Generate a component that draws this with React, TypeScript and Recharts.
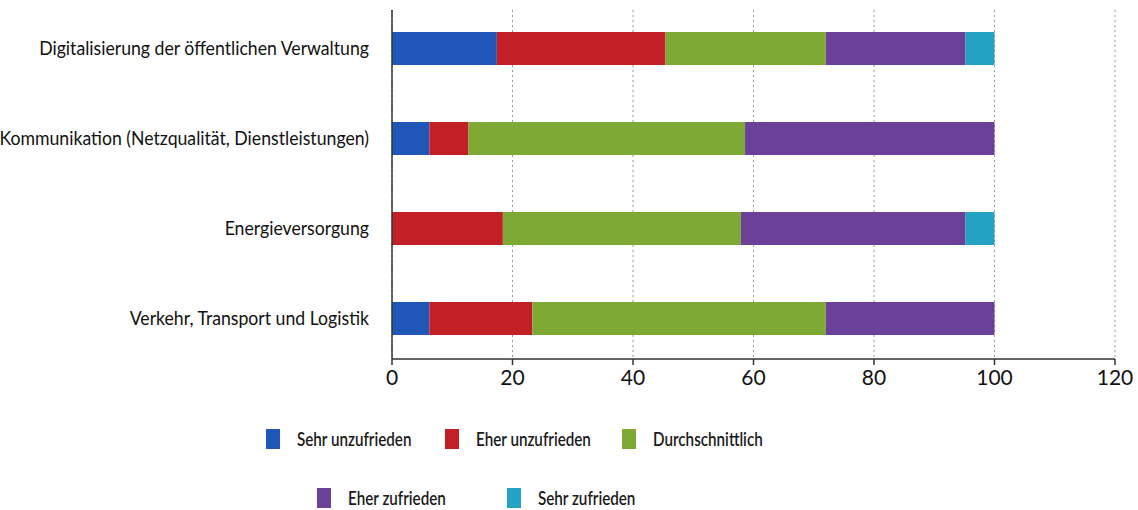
import { BarChart, Bar, XAxis, YAxis, CartesianGrid } from 'recharts';

if (typeof document !== 'undefined') document.body.style.margin = '0';

const categories = [
  'Digitalisierung der öffentlichen Verwaltung',
  'Kommunikation (Netzqualität, Dienstleistungen)',
  'Energieversorgung',
  'Verkehr, Transport und Logistik',
];

const sehrUnzufrieden = [17.4, 6.2, 0, 6.2];
const eherUnzufrieden = [28.0, 6.5, 18.4, 17.1];
const durchschnittlich = [26.6, 45.9, 39.5, 48.7];
const eherZufrieden = [23.2, 41.4, 37.3, 28.0];
const sehrZufrieden = [4.8, 0, 4.8, 0];

const xTicks = [0, 20, 40, 60, 80, 100, 120];

const series = [
  { key: 'sehrUnzufrieden', label: 'Sehr unzufrieden', color: '#1f56b8', values: sehrUnzufrieden },
  { key: 'eherUnzufrieden', label: 'Eher unzufrieden', color: '#c21f27', values: eherUnzufrieden },
  { key: 'durchschnittlich', label: 'Durchschnittlich', color: '#7fa935', values: durchschnittlich },
  { key: 'eherZufrieden', label: 'Eher zufrieden', color: '#6a4099', values: eherZufrieden },
  { key: 'sehrZufrieden', label: 'Sehr zufrieden', color: '#23a2c4', values: sehrZufrieden },
];

const data = categories.map((name, i) => {
  const row: Record<string, string | number> = { name };
  series.forEach((s) => {
    row[s.key] = s.values[i];
  });
  return row;
});

const font = 'Lato, "Liberation Sans", sans-serif';

// the original typeface is narrower than Lato
const labelScale = 0.93;
const legendScale = 0.8;

function CategoryTick({ x, y, payload }: any) {
  return (
    <text
      x={x}
      y={y}
      dy="0.35em"
      textAnchor="end"
      fill="#111"
      fontSize={19}
      fontFamily={font}
      transform={`translate(${x} 0) scale(${labelScale} 1) translate(${-x} 0)`}
    >
      {payload.value}
    </text>
  );
}

// legend positions (two rows like the original)
const legendRows = [
  [
    { idx: 0, x: 266 },
    { idx: 1, x: 445 },
    { idx: 2, x: 622 },
  ],
  [
    { idx: 3, x: 317 },
    { idx: 4, x: 507 },
  ],
];
const legendRowY = [427, 486];

export default function App() {
  return (
    <div style={{ position: 'relative', width: 1138, height: 510, background: '#fff', fontFamily: font }}>
      <BarChart
        width={1138}
        height={392}
        data={data}
        layout="vertical"
        margin={{ top: 10, right: 23, left: 0, bottom: 0 }}
      >
        <CartesianGrid horizontal={false} stroke="#9a9a9a" strokeDasharray="2 3" />
        <XAxis
          type="number"
          domain={[0, 120]}
          ticks={xTicks}
          stroke="#333"
          strokeWidth={1.5}
          tickSize={6}
          tickMargin={5}
          height={33}
          tick={{ fill: '#111', fontSize: 21, fontFamily: font }}
        />
        <YAxis
          type="category"
          dataKey="name"
          width={392}
          stroke="#333"
          strokeWidth={1.5}
          tickLine={false}
          tickSize={0}
          tickMargin={23}
          padding={{ top: -7, bottom: -4 }}
          tick={<CategoryTick />}
        />
        {series.map((s) => (
          <Bar key={s.key} dataKey={s.key} stackId="a" fill={s.color} barSize={33} isAnimationActive={false} />
        ))}
      </BarChart>
      {legendRows.map((row, r) =>
        row.map((item) => {
          const s = series[item.idx];
          return (
            <div
              key={s.key}
              style={{
                position: 'absolute',
                left: item.x,
                top: legendRowY[r],
                display: 'flex',
                alignItems: 'center',
                fontSize: 19,
                color: '#1a1a1a',
                fontWeight: 600,
                whiteSpace: 'nowrap',
              }}
            >
              <span style={{ width: 14, height: 20, background: s.color, display: 'inline-block', marginRight: 17 }} />
              <span style={{ display: 'inline-block', transform: `scaleX(${legendScale})`, transformOrigin: 'left center' }}>
                {s.label}
              </span>
            </div>
          );
        })
      )}
    </div>
  );
}
